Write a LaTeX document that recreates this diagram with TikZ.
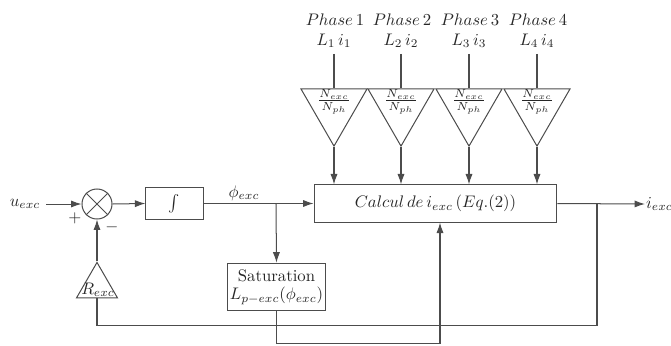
\documentclass[tikz,border=0pt]{standalone}
\usepackage{amsmath}
\usetikzlibrary{shapes.geometric,arrows.meta,positioning,calc}

\begin{document}
\begin{tikzpicture}[x=0.021cm, y=-0.021cm,
  line/.style={draw=black!70, semithick},
  arr/.style={line, -{Latex[length=2.2mm,width=1.5mm]}},
  blockbox/.style={draw=black!70, semithick, rectangle, inner sep=2pt},
  gain/.style={draw=black!70, semithick, regular polygon, regular polygon sides=3, shape border rotate=180, minimum size=1.6cm, inner sep=0pt},
  every node/.style={text=black!85}]
  \useasboundingbox (0,0) rectangle (671,345);

  % phase inputs
  \node (ph1) at (335,20) {$Phase\,1$};
  \node (ph2) at (402,20) {$Phase\,2$};
  \node (ph3) at (470,20) {$Phase\,3$};
  \node (ph4) at (538,20) {$Phase\,4$};
  \node (li1) at (334,41) {$L_1\,i_1$};
  \node (li2) at (401,41) {$L_2\,i_2$};
  \node (li3) at (469,41) {$L_3\,i_3$};
  \node (li4) at (537,41) {$L_4\,i_4$};

  % gains N_exc/N_ph
  \node[gain] (g1) at (334,108) {};
  \node[gain] (g2) at (401,108) {};
  \node[gain] (g3) at (469,108) {};
  \node[gain] (g4) at (537,108) {};
  \node (f1) at (334,102) {$\frac{N_{exc}}{N_{ph}}$};
  \node (f2) at (401,102) {$\frac{N_{exc}}{N_{ph}}$};
  \node (f3) at (469,102) {$\frac{N_{exc}}{N_{ph}}$};
  \node (f4) at (537,102) {$\frac{N_{exc}}{N_{ph}}$};

  % main chain
  \node (uin) at (25,204) {$u_{exc}$};
  \node[circle, draw=black!70, semithick, minimum size=0.63cm, inner sep=0pt] (sum) at (97,204) {};
  \node[blockbox, minimum width=1.2cm, minimum height=0.67cm] (integ) at (174.5,203.5) {$\int$};
  \node[blockbox, minimum width=5.1cm, minimum height=0.78cm] (calc) at (435.5,203.5) {$Calcul\,de\,i_{exc}\,(Eq.(2))$};
  \node[blockbox, minimum width=2.04cm, minimum height=1.0cm, align=center, inner sep=1pt] (sat) at (276.5,287) {Saturation\\[-1pt]$L_{p-exc}(\phi_{exc})$};
  \node[draw=black!70, semithick, regular polygon, regular polygon sides=3, minimum size=0.99cm, inner sep=0pt] (rg) at (97,286) {};
  \node (rl) at (98,290) {$R_{exc}$};
  \node[anchor=west, inner sep=0.5pt] (iout) at (645,204) {$i_{exc}$};
  \node (phi) at (244,193) {$\phi_{exc}$};
  \node (plus) at (75,218) {$+$};
  \node (minus) at (112,227) {$-$};
  \coordinate (br) at (276,204);
  \coordinate (fb) at (597,204);

  % sum cross
  \draw[line] (sum.north west) -- (sum.south east);
  \draw[line] (sum.north east) -- (sum.south west);

  % connectors
  \draw[line] (li1) -- (g1.north);
  \draw[line] (li2) -- (g2.north);
  \draw[line] (li3) -- (g3.north);
  \draw[line] (li4) -- (g4.north);
  \draw[arr] (g1.corner 1) -- (g1.corner 1 |- calc.north);
  \draw[arr] (g2.corner 1) -- (g2.corner 1 |- calc.north);
  \draw[arr] (g3.corner 1) -- (g3.corner 1 |- calc.north);
  \draw[arr] (g4.corner 1) -- (g4.corner 1 |- calc.north);

  \draw[arr] (uin) -- (sum.west);
  \draw[arr] (sum.east) -- (integ.west);
  \draw[arr] (integ.east) -- (calc.west);
  \draw[arr] (br) -- (sat.north);
  \draw[arr] (sat.south) -- ++(0,32) -| ($(calc.south)+(4.5,0)$);
  \draw[arr] (calc.east) -- (iout.west);
  \draw[line] (fb) -- ++(0,121) -| (rg.south);
  \draw[arr] (rg.corner 1) -- (sum.south);
\end{tikzpicture}
\end{document}
